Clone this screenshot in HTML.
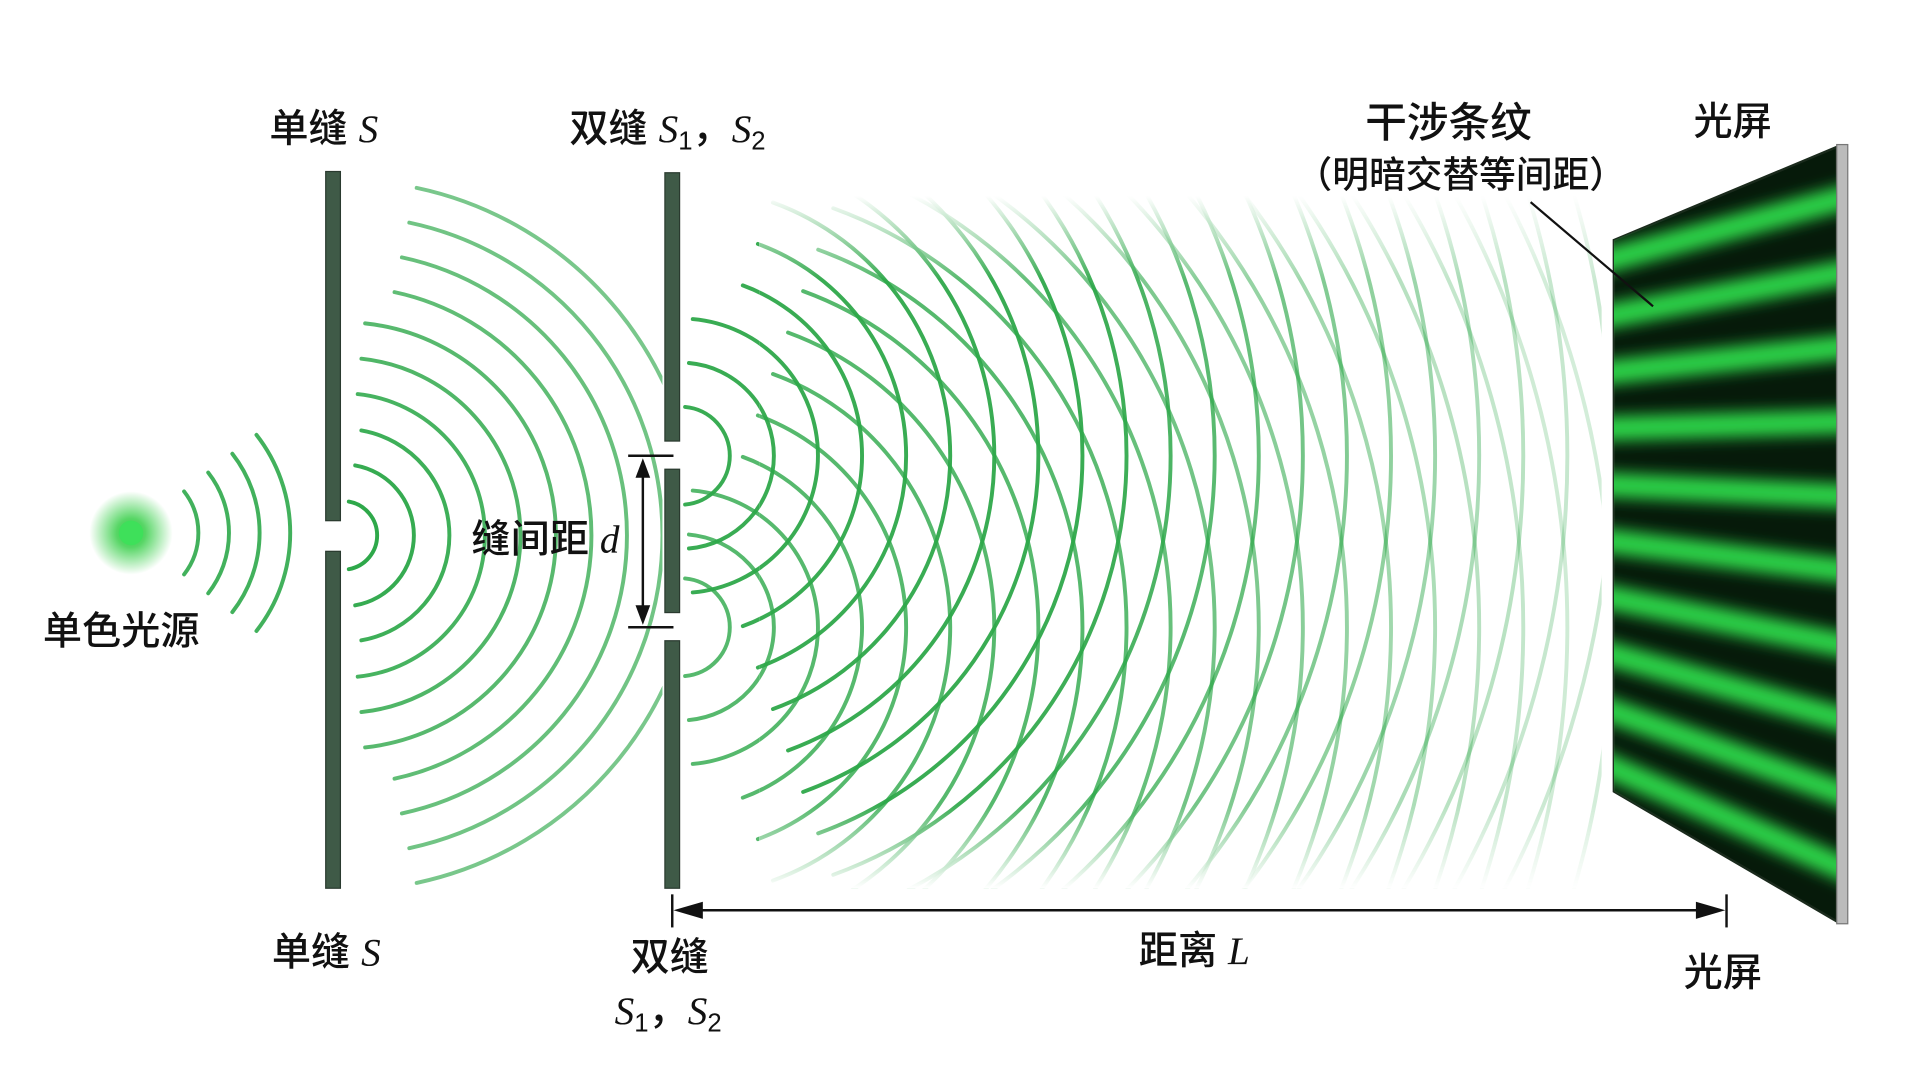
<!DOCTYPE html>
<html><head><meta charset="utf-8">
<style>
html,body{margin:0;padding:0;background:#fff;overflow:hidden;width:1920px;height:1072px;}
svg{display:block;}
text{font-family:"Liberation Sans","Noto Sans CJK SC",sans-serif;fill:#111;font-weight:500;}
.v{font-family:"Liberation Serif",serif;font-style:italic;}
</style></head>
<body>
<svg id="s" width="1920" height="1072" viewBox="0 0 1568 875" preserveAspectRatio="none" xmlns="http://www.w3.org/2000/svg">
<defs>
<radialGradient id="glow">
<stop offset="0" stop-color="#2ecc40"/>
<stop offset="0.35" stop-color="#2ecc40" stop-opacity="0.8"/>
<stop offset="1" stop-color="#2ecc40" stop-opacity="0"/>
</radialGradient>
<linearGradient id="vg" x1="0" y1="0" x2="0" y2="1">
<stop offset="0" stop-color="#000"/>
<stop offset="0.12" stop-color="#fff"/>
<stop offset="0.88" stop-color="#fff"/>
<stop offset="1" stop-color="#000"/>
</linearGradient>
<mask id="wm" maskUnits="userSpaceOnUse" x="0" y="0" width="1568" height="875">
<rect x="0" y="0" width="1568" height="875" fill="#fff"/>
<rect x="620" y="160" width="700" height="565" fill="#000"/>
<rect x="620" y="160" width="700" height="565" fill="url(#vg)"/>
</mask>
<clipPath id="scr"><polygon points="1318,196 1500,120 1500,752 1318,646"/></clipPath>
<clipPath id="waves"><rect x="556" y="160" width="752" height="565"/></clipPath>
<clipPath id="w1"><rect x="279" y="140" width="262" height="590"/></clipPath>
<filter id="bl"><feGaussianBlur stdDeviation="6"/></filter>
</defs>
<rect width="1568" height="875" fill="#fff"/>
<circle cx="107" cy="435" r="34" fill="url(#glow)"/>
<circle cx="107" cy="435" r="10" fill="#3ee05a"/>
<g id="arcs" fill="none" stroke="#2ea84a" stroke-width="3.2" stroke-linecap="round"></g>
<g id="arcs2" fill="none" stroke="#2ea84a" stroke-width="3.2" stroke-linecap="round" mask="url(#wm)"></g>
<g fill="#3f5a47" stroke="#2a3a2f" stroke-width="1">
<rect x="266" y="140" width="12" height="285"/>
<rect x="266" y="450" width="12" height="275"/>
<rect x="543" y="141" width="12" height="219"/>
<rect x="543" y="383" width="12" height="117"/>
<rect x="543" y="523" width="12" height="202"/>
</g>
<polygon points="1318,196 1500,120 1500,752 1318,646" fill="#061a0a" stroke="#1a2a1c" stroke-width="2"/>
<g id="bands" clip-path="url(#scr)" filter="url(#bl)" stroke="#2fd64a" stroke-width="20"></g>
<rect x="1500" y="118" width="9" height="636" fill="#bbb" stroke="#777" stroke-width="1"/>
<line x1="1250" y1="165" x2="1350" y2="250" stroke="#111" stroke-width="1.8"/>
<g stroke="#111" stroke-width="2">
<line x1="513" y1="372" x2="550" y2="372"/>
<line x1="513" y1="512" x2="550" y2="512"/>
<line x1="525" y1="385" x2="525" y2="499"/>
</g>
<polygon points="525,374 519,390 531,390" fill="#111"/>
<polygon points="525,510 519,494 531,494" fill="#111"/>
<g stroke="#111" stroke-width="2">
<line x1="549" y1="730" x2="549" y2="757"/>
<line x1="1410" y1="730" x2="1410" y2="757"/>
<line x1="560" y1="743" x2="1398" y2="743"/>
</g>
<polygon points="550,743 574,736 574,750" fill="#111"/>
<polygon points="1409,743 1385,736 1385,750" fill="#111"/>
<g font-size="32">
<text x="220" y="116">单缝 <tspan class="v">S</tspan></text>
<text x="465" y="116">双缝 <tspan class="v">S</tspan><tspan font-size="21" dy="6">1</tspan><tspan dy="-6">，</tspan><tspan class="v">S</tspan><tspan font-size="21" dy="6">2</tspan></text>
<text x="1115" y="112" font-size="34">干涉条纹</text>
<text x="1058" y="153" font-size="30">（明暗交替等间距）</text>
<text x="1383" y="110">光屏</text>
<text x="35" y="526">单色光源</text>
<text x="385" y="451">缝间距 <tspan class="v">d</tspan></text>
<text x="222" y="788">单缝 <tspan class="v">S</tspan></text>
<text x="515" y="792">双缝</text>
<text x="502" y="836"><tspan class="v">S</tspan><tspan font-size="21" dy="6">1</tspan><tspan dy="-6">，</tspan><tspan class="v">S</tspan><tspan font-size="21" dy="6">2</tspan></text>
<text x="930" y="787">距离 <tspan class="v">L</tspan></text>
<text x="1375" y="805">光屏</text>
</g>
</svg>
<script>
var NS="http://www.w3.org/2000/svg";
var g=document.getElementById('arcs'),g2=document.getElementById('arcs2');
function arc(cx,cy,r,a,op,clip,grp){
  var a1=-a*Math.PI/180,a2=a*Math.PI/180;
  var x1=cx+r*Math.cos(a1),y1=cy+r*Math.sin(a1),x2=cx+r*Math.cos(a2),y2=cy+r*Math.sin(a2);
  var p=document.createElementNS(NS,'path');
  p.setAttribute('d','M'+x1+','+y1+' A'+r+','+r+' 0 0 1 '+x2+','+y2);
  p.setAttribute('opacity',op);
  if(clip)p.setAttribute('clip-path','url(#'+clip+')');
  (grp||g).appendChild(p);
}
for(var r=55;r<=140;r+=25) arc(107,435,r,38,0.9);
var rr=[28];for(var r=58;r<=300;r+=29)rr.push(r);
rr.forEach(function(r,i){arc(280,437,r,r<100?80:(r<200?84:78),Math.max(0.55,1-i*0.04),'w1');});
[372,512].forEach(function(cy){
  for(var r=40;r<=770;r+=36){
    var op=r<350?0.95:Math.max(0.25,0.95-(r-350)/550);
    if(cy==512)op*=0.85;
    arc(556,cy,r,r<120?85:70,op,'waves',g2);
  }
});
var b=document.getElementById('bands');
for(var i=0;i<10;i++){
  var f=0.06+i*0.098;
  var l=document.createElementNS(NS,'line');
  l.setAttribute('x1',1300);l.setAttribute('y1',196+450*f-8*(1-f));
  l.setAttribute('x2',1520);l.setAttribute('y2',120+632*f);
  b.appendChild(l);
}
</script>
</body></html>
